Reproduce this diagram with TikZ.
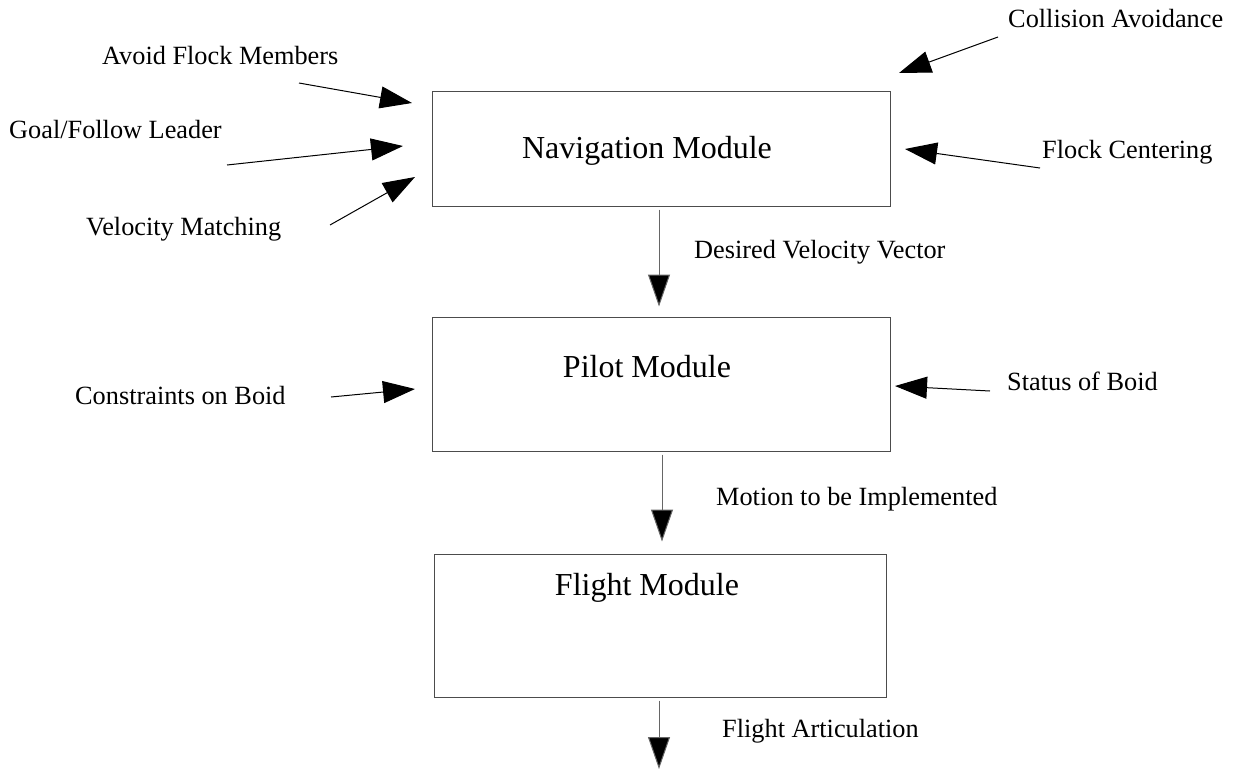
\documentclass[tikz,border=0pt]{standalone}
\usepackage{fontspec}
\setmainfont{Liberation Serif}
\usetikzlibrary{arrows.meta}
\begin{document}
\begin{tikzpicture}[x=1pt,y=-1pt,
  modbox/.style={draw=black!70, line width=1pt, minimum width=458pt, minimum height=115pt, inner sep=0pt},
  modtext/.style={font=\fontsize{32}{38}\selectfont, anchor=base, inner sep=0pt},
  lbl/.style={font=\fontsize{26.3}{31}\selectfont, anchor=base west, inner sep=0pt},
  arr/.style={line width=1pt, -{Triangle[length=32pt,width=22pt]}},
  varr/.style={draw=black!60, line width=1pt, -{Triangle[length=32pt,width=22pt,fill=black]}}
]
\useasboundingbox (0,0) rectangle (1234,769);

% module boxes
\node[modbox, minimum width=458pt, minimum height=115pt] (nav) at (661,148.5) {};
\node[modbox, minimum width=458pt, minimum height=134pt] (pilot) at (661,384) {};
\node[modbox, minimum width=452pt, minimum height=143pt] (flight) at (660,625.5) {};

\node[modtext] (navt) at (647,158) {Navigation Module};
\node[modtext] (pilott) at (647,377) {Pilot Module};
\node[modtext] (flightt) at (647,595) {Flight Module};

% input labels
\node[lbl] (afm) at (102,64) {Avoid Flock Members};
\node[lbl] (gfl) at (9,138) {Goal/Follow Leader};
\node[lbl] (vm) at (86,235) {Velocity Matching};
\node[lbl] (ca) at (1008,27) {Collision Avoidance};
\node[lbl] (fc) at (1042,158) {Flock Centering};
\node[lbl] (cob) at (75,404) {Constraints on Boid};
\node[lbl] (sob) at (1007,390) {Status of Boid};
\node[lbl] (dvv) at (694,258) {Desired Velocity Vector};
\node[lbl] (mbi) at (716,505) {Motion to be Implemented};
\node[lbl] (fa) at (722,737) {Flight Articulation};

% arrow end points
\coordinate (afm1) at (299,83);  \coordinate (afm2) at (412,103);
\coordinate (gfl1) at (227,165); \coordinate (gfl2) at (403,146);
\coordinate (vm1) at (330,225);  \coordinate (vm2) at (415,177);
\coordinate (ca1) at (998,37);   \coordinate (ca2) at (899,73);
\coordinate (fc1) at (1040,168); \coordinate (fc2) at (905,149);
\coordinate (cob1) at (331,397); \coordinate (cob2) at (415,389);
\coordinate (sob1) at (990,391); \coordinate (sob2) at (895,386);
\coordinate (fa2) at (659,769);

\draw[arr] (afm1) -- (afm2);
\draw[arr] (gfl1) -- (gfl2);
\draw[arr] (vm1) -- (vm2);
\draw[arr] (ca1) -- (ca2);
\draw[arr] (fc1) -- (fc2);
\draw[arr] (cob1) -- (cob2);
\draw[arr] (sob1) -- (sob2);

\draw[varr, shorten <=3pt, shorten >=10pt] (nav.south -| 659,0) -- (pilot.north -| 659,0);
\draw[varr, shorten <=3pt, shorten >=12pt] (pilot.south -| 662,0) -- (flight.north -| 662,0);
\draw[varr, shorten <=3pt] (flight.south -| 659,0) -- (fa2);
\end{tikzpicture}
\end{document}
